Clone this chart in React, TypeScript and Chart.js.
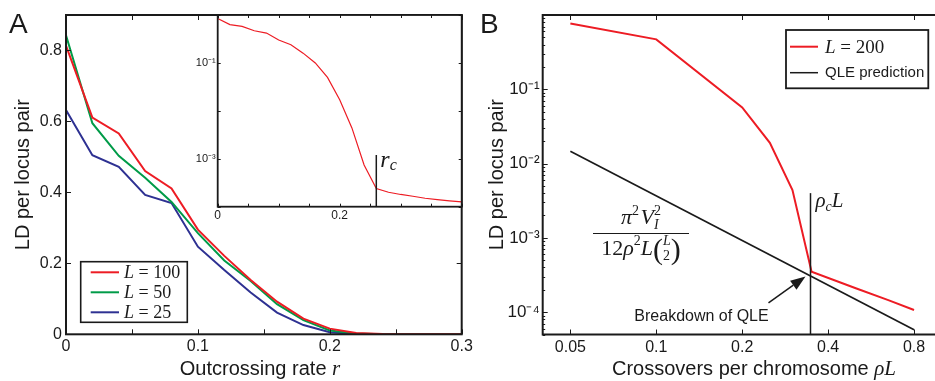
import React, { useEffect, useRef } from 'react';
import { Chart, registerables } from 'chart.js';
Chart.register(...registerables);

const SANS = '"Liberation Sans", Arial, sans-serif';
const SERIF = '"Liberation Serif", "Times New Roman", serif';
const INK = '#1a1a1a';
const RED = 'rgb(237,28,36)';
const GREEN = 'rgb(0,155,72)';
const BLUE = 'rgb(46,49,146)';

// ---------- Panel A data ----------
const outcrossingRate = [0, 0.02, 0.04, 0.06, 0.08, 0.1, 0.12, 0.14, 0.16, 0.18, 0.2, 0.22, 0.24, 0.26, 0.28, 0.3];
const ldL100 = [0.814, 0.611, 0.566, 0.46, 0.411, 0.295, 0.221, 0.153, 0.092, 0.044, 0.016, 0.004, 0.001, 0, 0, 0];
const ldL50 = [0.843, 0.595, 0.503, 0.441, 0.373, 0.285, 0.208, 0.15, 0.085, 0.04, 0.011, 0.002, 0, 0, 0, 0];
const ldL25 = [0.632, 0.505, 0.472, 0.393, 0.37, 0.247, 0.181, 0.118, 0.061, 0.026, 0.006, 0.001, 0, 0, 0, 0];
const legendValuesA = ['100', '50', '25'];
const xTicksA = [0, 0.05, 0.1, 0.15, 0.2, 0.25, 0.3];
const xTickLabelsA = ['0', '', '0.1', '', '0.2', '', '0.3'];
const yTicksA = [0, 0.2, 0.4, 0.6, 0.8];
const yTickLabelsA = ['0', '0.2', '0.4', '0.6', '0.8'];

// ---------- Inset data ----------
const insetRate = [0, 0.02, 0.04, 0.06, 0.08, 0.1, 0.12, 0.14, 0.16, 0.18, 0.2, 0.22, 0.24, 0.26, 0.28, 0.3, 0.32, 0.34, 0.36, 0.38, 0.4];
const insetLD = [0.845, 0.63, 0.58, 0.47, 0.42, 0.3, 0.24, 0.16, 0.1, 0.05, 0.017, 0.0044, 7.4e-4, 2.4e-4, 2.0e-4, 1.8e-4, 1.65e-4, 1.5e-4, 1.4e-4, 1.32e-4, 1.26e-4];
const insetXTicks = [0, 0.05, 0.1, 0.15, 0.2, 0.25, 0.3, 0.35, 0.4];
const insetXLabels = ['0', '', '', '', '0.2', '', '', '', ''];
const insetYTicks = [1e-4, 1e-3, 1e-2, 1e-1, 1];
const insetYLabels = ['', '10⁻³', '', '10⁻¹', ''];
const rCritical = 0.26;
const rCriticalTop = 1.2e-3;

// ---------- Panel B data ----------
const crossovers = [0.05, 0.1, 0.2, 0.25, 0.3, 0.35, 0.5, 0.65, 0.8];
const ldL200 = [0.77, 0.47, 0.057, 0.019, 0.0044, 3.5e-4, 2.1e-4, 1.45e-4, 1.07e-4];
const qleCrossovers = [0.05, 0.8];
const qleLD = [0.0146, 5.8e-5];
const rhoCL = 0.347;
const rhoCLTop = 4e-3;
const xTicksB = [0.05, 0.1, 0.2, 0.4, 0.8];
const xTickLabelsB = ['0.05', '0.1', '0.2', '0.4', '0.8'];
const yDecadesB = [1e-5, 1e-4, 1e-3, 1e-2, 1e-1];
const yMinorSteps = [1, 2, 3, 4, 5, 6, 7, 8, 9];
const yLabelValuesB = [1e-4, 1e-3, 1e-2, 1e-1];
const yLabelTextB = ['10⁻⁴', '10⁻³', '10⁻²', '10⁻¹'];

// ---------- helpers ----------
function lookup(vals: number[], labels: string[], v: number) {
  const i = vals.findIndex((u) => Math.abs(u - v) <= 1e-6 * Math.max(Math.abs(u), 1e-12));
  return i >= 0 ? labels[i] : '';
}

type Run = { t: string; f: string; dy?: number; stack?: boolean };
function layoutRuns(ctx: CanvasRenderingContext2D, runs: Run[]) {
  let x = 0, prevStart = 0, prevW = 0;
  const items: any[] = [];
  for (const r of runs) {
    ctx.font = r.f;
    const w = ctx.measureText(r.t).width;
    if (r.stack) {
      items.push({ ...r, x: prevStart });
      const m = Math.max(prevW, w);
      x = prevStart + m;
      prevW = m;
    } else {
      items.push({ ...r, x });
      prevStart = x;
      prevW = w;
      x += w;
    }
  }
  return { items, width: x };
}
function drawRuns(ctx: CanvasRenderingContext2D, runs: Run[], x: number, y: number, align: 'left' | 'center' | 'right' = 'left') {
  const { items, width } = layoutRuns(ctx, runs);
  const x0 = align === 'center' ? x - width / 2 : align === 'right' ? x - width : x;
  ctx.textAlign = 'left';
  ctx.textBaseline = 'alphabetic';
  ctx.fillStyle = INK;
  for (const it of items) {
    ctx.font = it.f;
    ctx.fillText(it.t, x0 + it.x, y + (it.dy || 0));
  }
  return width;
}

function framePlugin(opt: { width: number; xLen: (v: number) => number; yLen: (v: number) => number }) {
  return {
    id: 'frameTicks',
    afterDatasetsDraw(chart: any) {
      const { ctx, chartArea: a } = chart;
      const xs = chart.scales.x, ys = chart.scales.y;
      ctx.save();
      ctx.strokeStyle = INK;
      ctx.lineWidth = 1;
      ctx.beginPath();
      for (const t of xs.ticks) {
        const p = Math.round(xs.getPixelForValue(t.value)) + 0.5;
        const l = opt.xLen(t.value);
        ctx.moveTo(p, a.bottom); ctx.lineTo(p, a.bottom - l);
        ctx.moveTo(p, a.top); ctx.lineTo(p, a.top + l);
      }
      for (const t of ys.ticks) {
        const p = Math.round(ys.getPixelForValue(t.value)) + 0.5;
        const l = opt.yLen(t.value);
        ctx.moveTo(a.left, p); ctx.lineTo(a.left + l, p);
        ctx.moveTo(a.right, p); ctx.lineTo(a.right - l, p);
      }
      ctx.stroke();
      ctx.lineWidth = opt.width;
      ctx.strokeRect(a.left, a.top, a.right - a.left, a.bottom - a.top);
      ctx.restore();
    },
  };
}

const baseOptions = () => ({
  responsive: false,
  animation: false,
  events: [],
  elements: { point: { radius: 0 }, line: { tension: 0, fill: false } },
  plugins: { legend: { display: false }, tooltip: { enabled: false } },
});

const tickFont = (size: number) => ({ family: SANS, size });

// ---------- Panel A ----------
function configA() {
  const series = [ldL100, ldL50, ldL25];
  const colors = [RED, GREEN, BLUE];
  return {
    type: 'line',
    data: {
      datasets: series.map((s, k) => ({
        label: 'L = ' + legendValuesA[k],
        data: outcrossingRate.map((x, i) => ({ x, y: s[i] })),
        borderColor: colors[k],
        borderWidth: 2,
      })),
    },
    options: {
      ...baseOptions(),
      layout: { padding: { top: 15, right: 490 - 461.7, left: 0, bottom: 0 } },
      scales: {
        x: {
          type: 'linear', min: 0, max: 0.3,
          grid: { display: false, drawTicks: false }, border: { display: false },
          afterBuildTicks: (s: any) => { s.ticks = xTicksA.map((v) => ({ value: v })); },
          afterFit: (s: any) => { s.height = 381 - 334.3; },
          ticks: { autoSkip: false, maxRotation: 0, padding: 3, color: INK, font: tickFont(16),
            callback: (v: number) => lookup(xTicksA, xTickLabelsA, v) },
        },
        y: {
          type: 'linear', min: 0, max: 0.9,
          grid: { display: false, drawTicks: false }, border: { display: false },
          afterBuildTicks: (s: any) => { s.ticks = yTicksA.map((v) => ({ value: v })); },
          afterFit: (s: any) => { s.width = 66; },
          ticks: { autoSkip: false, padding: 4, color: INK, font: tickFont(16),
            callback: (v: number) => lookup(yTicksA, yTickLabelsA, v) },
          title: { display: true, text: 'LD per locus pair', color: INK, font: { family: SANS, size: 20 }, padding: { top: 11, bottom: 0 } },
        },
      },
    },
    plugins: [
      framePlugin({ width: 2, xLen: () => 5, yLen: () => 5 }),
      {
        id: 'annotA',
        afterDraw(chart: any) {
          const { ctx, chartArea: a } = chart;
          ctx.save();
          // legend box
          const bx = a.left + 14.7, by = 261.7, bw = 106.6, bh = 60.6;
          ctx.fillStyle = '#fff';
          ctx.fillRect(bx, by, bw, bh);
          ctx.strokeStyle = INK;
          ctx.lineWidth = 1.6;
          ctx.strokeRect(bx, by, bw, bh);
          chart.data.datasets.forEach((ds: any, i: number) => {
            const y = 272.3 + i * 20;
            ctx.strokeStyle = ds.borderColor;
            ctx.lineWidth = 2;
            ctx.beginPath();
            ctx.moveTo(bx + 10, y); ctx.lineTo(bx + 38.3, y);
            ctx.stroke();
            drawRuns(ctx, [
              { t: 'L', f: `italic 18px ${SERIF}` },
              { t: ' = ' + legendValuesA[i], f: `18px ${SERIF}` },
            ], bx + 43.3, y + 6);
          });
          // x-axis title
          drawRuns(ctx, [
            { t: 'Outcrossing rate ', f: `20px ${SANS}` },
            { t: 'r', f: `italic 21px ${SERIF}` },
          ], 260, 375, 'center');
          // panel letter
          ctx.fillStyle = INK;
          ctx.font = `28px ${SANS}`;
          ctx.textAlign = 'left';
          ctx.textBaseline = 'alphabetic';
          ctx.fillText('A', 9, 32.5);
          ctx.restore();
        },
      },
    ],
  };
}

// ---------- Inset ----------
function configInset() {
  return {
    type: 'line',
    data: {
      datasets: [{
        label: 'inset',
        data: insetRate.map((x, i) => ({ x, y: insetLD[i] })),
        borderColor: RED,
        borderWidth: 1.2,
      }],
    },
    options: {
      ...baseOptions(),
      layout: { padding: { top: 15, right: 290 - 271.7, left: 0, bottom: 0 } },
      scales: {
        x: {
          type: 'linear', min: 0, max: 0.4,
          grid: { display: false, drawTicks: false }, border: { display: false },
          afterBuildTicks: (s: any) => { s.ticks = insetXTicks.map((v) => ({ value: v })); },
          afterFit: (s: any) => { s.height = 235 - 206.7; },
          ticks: { autoSkip: false, maxRotation: 0, padding: 2, color: INK, font: tickFont(12),
            callback: (v: number) => lookup(insetXTicks, insetXLabels, v) },
        },
        y: {
          type: 'logarithmic', min: 1e-4, max: 1,
          grid: { display: false, drawTicks: false }, border: { display: false },
          afterBuildTicks: (s: any) => { s.ticks = insetYTicks.map((v) => ({ value: v })); },
          afterFit: (s: any) => { s.width = 27.7; },
          ticks: { autoSkip: false, padding: 2, color: INK, font: tickFont(11),
            callback: (v: number) => lookup(insetYTicks, insetYLabels, v) },
        },
      },
    },
    plugins: [
      {
        id: 'insetBg',
        beforeDatasetsDraw(chart: any) {
          const { ctx, chartArea: a } = chart;
          ctx.save();
          ctx.fillStyle = '#fff';
          ctx.fillRect(a.left, a.top, a.right - a.left, a.bottom - a.top);
          ctx.restore();
        },
      },
      framePlugin({ width: 1.8, xLen: () => 3, yLen: () => 3 }),
      {
        id: 'annotInset',
        afterDraw(chart: any) {
          const { ctx, chartArea: a } = chart;
          const xs = chart.scales.x, ys = chart.scales.y;
          const lx = xs.getPixelForValue(rCritical);
          const top = ys.getPixelForValue(rCriticalTop);
          ctx.save();
          ctx.strokeStyle = INK;
          ctx.lineWidth = 1.5;
          ctx.beginPath();
          ctx.moveTo(lx, top); ctx.lineTo(lx, a.bottom);
          ctx.stroke();
          drawRuns(ctx, [
            { t: 'r', f: `italic 24px ${SERIF}` },
            { t: 'c', f: `italic 16px ${SERIF}`, dy: 3.5 },
          ], lx + 4, top + 11.7);
          ctx.restore();
        },
      },
    ],
  };
}

// ---------- Panel B ----------
function configB() {
  const yMin = 5e-5, yMax = 1;
  return {
    type: 'line',
    data: {
      datasets: [
        {
          label: 'L = 200',
          data: crossovers.map((x, i) => ({ x, y: ldL200[i] })),
          borderColor: RED,
          borderWidth: 2,
        },
        {
          label: 'QLE prediction',
          data: qleCrossovers.map((x, i) => ({ x, y: qleLD[i] })),
          borderColor: INK,
          borderWidth: 1.7,
        },
      ],
    },
    options: {
      ...baseOptions(),
      layout: { padding: { top: 15, right: 480 - 471.7, left: 0, bottom: 0 } },
      scales: {
        x: {
          type: 'logarithmic', min: 0.04, max: 1,
          grid: { display: false, drawTicks: false }, border: { display: false },
          afterBuildTicks: (s: any) => { s.ticks = xTicksB.map((v) => ({ value: v })); },
          afterFit: (s: any) => { s.height = 381 - 334.5; },
          ticks: { autoSkip: false, maxRotation: 0, padding: 3, color: INK, font: tickFont(16),
            callback: (v: number) => lookup(xTicksB, xTickLabelsB, v) },
        },
        y: {
          type: 'logarithmic', min: yMin, max: yMax,
          grid: { display: false, drawTicks: false }, border: { display: false },
          afterBuildTicks: (s: any) => {
            const t: any[] = [];
            for (const d of yDecadesB) for (const m of yMinorSteps) {
              const v = m * d;
              if (v >= yMin * 0.999 && v <= yMax * 1.001) t.push({ value: v });
            }
            s.ticks = t;
          },
          afterFit: (s: any) => { s.width = 72.7; },
          ticks: { autoSkip: false, padding: 3, color: INK, font: tickFont(17),
            callback: (v: number) => lookup(yLabelValuesB, yLabelTextB, v) },
          title: { display: true, text: 'LD per locus pair', color: INK, font: { family: SANS, size: 20 }, padding: { top: 15, bottom: 0 } },
        },
      },
    },
    plugins: [
      framePlugin({
        width: 2,
        xLen: () => 5,
        yLen: (v: number) => (Math.abs(Math.log10(v) - Math.round(Math.log10(v))) < 1e-6 ? 5 : 2.5),
      }),
      {
        id: 'annotB',
        afterDraw(chart: any) {
          const { ctx, chartArea: a } = chart;
          const xs = chart.scales.x, ys = chart.scales.y;
          ctx.save();
          // critical vertical line
          const lx = xs.getPixelForValue(rhoCL);
          const top = ys.getPixelForValue(rhoCLTop);
          ctx.strokeStyle = INK;
          ctx.lineWidth = 1.5;
          ctx.beginPath();
          ctx.moveTo(lx, top); ctx.lineTo(lx, a.bottom);
          ctx.stroke();
          drawRuns(ctx, [
            { t: 'ρ', f: `italic 21px ${SERIF}` },
            { t: 'c', f: `italic 14px ${SERIF}`, dy: 3.5 },
            { t: 'L', f: `italic 21px ${SERIF}` },
          ], lx + 5, top + 14);

          // arrow to breakdown point
          const meta = chart.getDatasetMeta(1);
          const p0 = meta.data[0], p1 = meta.data[meta.data.length - 1];
          const iy = p0.y + ((lx - p0.x) / (p1.x - p0.x)) * (p1.y - p0.y);
          const tipX = lx - 5, tipY = iy + 0.5;
          const tailX = tipX - 37, tailY = tipY + 26.5;
          const ang = Math.atan2(tipY - tailY, tipX - tailX);
          const hl = 15, hw = 5.5;
          const bxp = tipX - hl * Math.cos(ang), byp = tipY - hl * Math.sin(ang);
          ctx.lineWidth = 1.5;
          ctx.beginPath();
          ctx.moveTo(tailX, tailY); ctx.lineTo(bxp, byp);
          ctx.stroke();
          ctx.fillStyle = INK;
          ctx.beginPath();
          ctx.moveTo(tipX, tipY);
          ctx.lineTo(bxp + hw * Math.sin(ang), byp - hw * Math.cos(ang));
          ctx.lineTo(bxp - hw * Math.sin(ang), byp + hw * Math.cos(ang));
          ctx.closePath();
          ctx.fill();
          ctx.font = `16px ${SANS}`;
          ctx.textAlign = 'center';
          ctx.textBaseline = 'alphabetic';
          ctx.fillText('Breakdown of QLE', tipX - 104, tipY + 45);

          // formula
          const fx = a.left + 98.3;
          drawRuns(ctx, [
            { t: 'π', f: `italic 22px ${SERIF}` },
            { t: '2', f: `14px ${SERIF}`, dy: -9 },
            { t: ' ', f: `6px ${SERIF}` },
            { t: 'V', f: `italic 22px ${SERIF}` },
            { t: 'I', f: `italic 14px ${SERIF}`, dy: 5 },
            { t: '2', f: `14px ${SERIF}`, dy: -9, stack: true },
          ], fx, 223.5, 'center');
          ctx.strokeStyle = INK;
          ctx.lineWidth = 1;
          ctx.beginPath();
          ctx.moveTo(fx - 48, 233.5); ctx.lineTo(fx + 48, 233.5);
          ctx.stroke();
          drawRuns(ctx, [
            { t: '12', f: `22px ${SERIF}` },
            { t: 'ρ', f: `italic 22px ${SERIF}` },
            { t: '2', f: `14px ${SERIF}`, dy: -10 },
            { t: 'L', f: `italic 22px ${SERIF}` },
            { t: '(', f: `30px ${SERIF}`, dy: 4 },
            { t: 'L', f: `italic 14px ${SERIF}`, dy: -10 },
            { t: '2', f: `14px ${SERIF}`, dy: 5, stack: true },
            { t: ')', f: `30px ${SERIF}`, dy: 4 },
          ], fx, 255, 'center');

          // legend
          const lbx = a.left + 243.3, lby = 30, lbw = 142.3, lbh = 58.3;
          ctx.fillStyle = '#fff';
          ctx.fillRect(lbx, lby, lbw, lbh);
          ctx.strokeStyle = INK;
          ctx.lineWidth = 1.8;
          ctx.strokeRect(lbx, lby, lbw, lbh);
          const ds = chart.data.datasets;
          const rows = [46.7, 72.7];
          ds.forEach((d: any, i: number) => {
            ctx.strokeStyle = d.borderColor;
            ctx.lineWidth = i === 0 ? 2 : 1.5;
            ctx.beginPath();
            ctx.moveTo(lbx + 4, rows[i]); ctx.lineTo(lbx + 32, rows[i]);
            ctx.stroke();
          });
          drawRuns(ctx, [
            { t: 'L', f: `italic 19px ${SERIF}` },
            { t: ' = 200', f: `19px ${SERIF}` },
          ], lbx + 39, rows[0] + 6.5);
          ctx.fillStyle = INK;
          ctx.font = `15px ${SANS}`;
          ctx.textAlign = 'left';
          ctx.textBaseline = 'middle';
          ctx.fillText(ds[1].label, lbx + 39, rows[1]);

          // x-axis title
          drawRuns(ctx, [
            { t: 'Crossovers per chromosome ', f: `20px ${SANS}` },
            { t: 'ρL', f: `italic 21px ${SERIF}` },
          ], a.left + 211.3, 375, 'center');

          // panel letter
          ctx.fillStyle = INK;
          ctx.font = `28px ${SANS}`;
          ctx.textAlign = 'left';
          ctx.textBaseline = 'alphabetic';
          ctx.fillText('B', 10, 33);
          ctx.restore();
        },
      },
    ],
  };
}

function ChartCanvas({ make, left, top, width, height }: { make: () => any; left: number; top: number; width: number; height: number }) {
  const ref = useRef<HTMLCanvasElement>(null);
  useEffect(() => {
    const chart = new Chart(ref.current as HTMLCanvasElement, make());
    return () => chart.destroy();
  }, []);
  return (
    <canvas
      ref={ref}
      width={width}
      height={height}
      style={{ position: 'absolute', left, top, width, height }}
    />
  );
}

export default function App() {
  return (
    <div style={{ position: 'fixed', left: 0, top: 0, width: 935, height: 381, overflow: 'hidden', background: '#fff' }}>
      <ChartCanvas make={configA} left={0} top={0} width={490} height={381} />
      <ChartCanvas make={configInset} left={190} top={0} width={290} height={235} />
      <ChartCanvas make={configB} left={470} top={0} width={480} height={381} />
    </div>
  );
}
